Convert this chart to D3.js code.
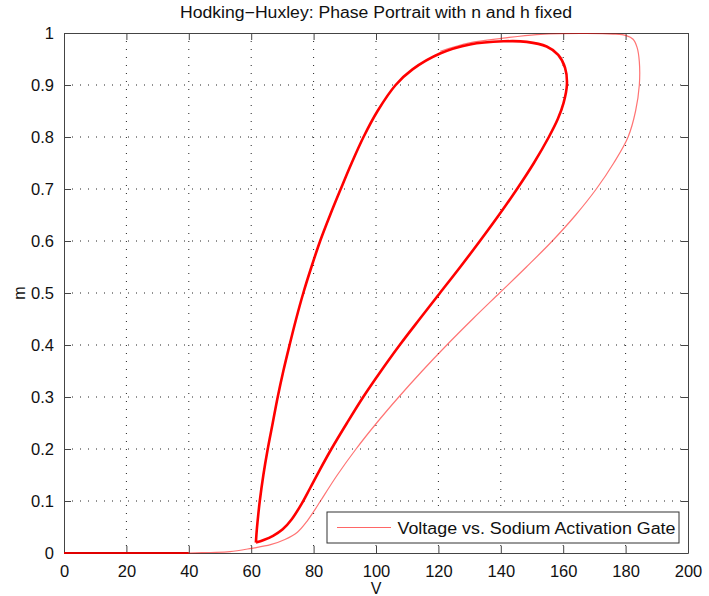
<!DOCTYPE html>
<html>
<head>
<meta charset="utf-8">
<script src="https://cdn.jsdelivr.net/npm/d3@7"></script>
<style>
  body { margin: 0; background: #fff; }
  text { font-family: "Liberation Sans", Arial, sans-serif; fill: #111; }
</style>
</head>
<body>
<div id="chart-area"></div>
<script>
// values
const xTicks = [0, 20, 40, 60, 80, 100, 120, 140, 160, 180, 200]
const yTicks = [0, 0.1, 0.2, 0.3, 0.4, 0.5, 0.6, 0.7, 0.8, 0.9, 1]

// resting stretch along the axis
const restV = [0, 40]
const restM = [0, 0]

// first spike (thin outer loop)
const firstV = [40, 47, 53.2, 60.1, 66.2, 70.8, 74.8, 78, 80.6, 82.2, 87.6, 93.6, 100.2, 107.3, 114.8, 122.7, 131, 139.6, 148.2, 156.5, 164, 170.6, 176.2, 180.8, 183.2, 184.4, 184.4, 183.7, 182.4, 180.2, 176, 165.4, 151.5, 140.8, 130, 120.6]
const firstM = [0, 0.001, 0.0025, 0.009, 0.016, 0.026, 0.04, 0.062, 0.085, 0.1, 0.15, 0.2, 0.25, 0.3, 0.35, 0.4, 0.45, 0.5, 0.55, 0.6, 0.65, 0.7, 0.75, 0.8, 0.85, 0.9, 0.945, 0.972, 0.988, 0.995, 0.998, 0.999, 0.997, 0.99, 0.981, 0.965]

// repeated spikes (thick inner loop)
const cycleV = [61.5, 61.8, 62.2, 62.75, 63.9, 65.3, 66.9, 68.5, 70.3, 72.3, 74.4, 76.7, 79.3, 82.1, 85.3, 88.7, 92.2, 96, 100.5, 106.3, 111.7, 120.7, 130.1, 140.8, 148.3, 154.7, 158.4, 160.6, 161.2, 160.1, 158.3, 155.4, 150.6, 145.2, 139.4, 133.3, 127, 120.5, 114, 107.6, 101.6, 95.9, 90.7, 85.7, 82, 78.9, 76.2, 73, 70, 67, 64, 61.5]
const cycleM = [0.02, 0.045, 0.07, 0.1, 0.15, 0.2, 0.25, 0.3, 0.35, 0.4, 0.45, 0.5, 0.55, 0.6, 0.65, 0.7, 0.75, 0.8, 0.85, 0.9, 0.93, 0.961, 0.978, 0.984, 0.983, 0.974, 0.958, 0.933, 0.902, 0.865, 0.835, 0.8, 0.75, 0.7, 0.65, 0.6, 0.55, 0.5, 0.45, 0.4, 0.35, 0.3, 0.25, 0.2, 0.16, 0.125, 0.095, 0.065, 0.045, 0.033, 0.025, 0.02]

const MARGIN = { LEFT: 64, RIGHT: 21, TOP: 33, BOTTOM: 43 }
const WIDTH = 709 - MARGIN.LEFT - MARGIN.RIGHT
const HEIGHT = 596 - MARGIN.TOP - MARGIN.BOTTOM

const svg = d3.select("#chart-area").append("svg")
	.attr("width", 709)
	.attr("height", 596)

const g = svg.append("g")
	.attr("transform", `translate(${MARGIN.LEFT}, ${MARGIN.TOP})`)

const x = d3.scaleLinear().domain([0, 200]).range([0, WIDTH])
const y = d3.scaleLinear().domain([0, 1]).range([HEIGHT, 0])

// dotted grid
g.append("g").selectAll("line")
	.data(xTicks.slice(1, -1))
	.join("line")
	.attr("x1", d => x(d)).attr("x2", d => x(d))
	.attr("y1", 0).attr("y2", HEIGHT)
	.attr("stroke", "#222").attr("stroke-dasharray", "1,7")
g.append("g").selectAll("line")
	.data(yTicks.slice(1, -1))
	.join("line")
	.attr("y1", d => y(d)).attr("y2", d => y(d))
	.attr("x1", 0).attr("x2", WIDTH)
	.attr("stroke", "#222").attr("stroke-dasharray", "1,7")

// axes, ticks pointing inward
const xAxis = g.append("g").attr("transform", `translate(0, ${HEIGHT})`)
	.call(d3.axisBottom(x).tickValues(xTicks).tickSizeInner(-7).tickSizeOuter(0).tickPadding(12))
const xAxisTop = g.append("g")
	.call(d3.axisTop(x).tickValues(xTicks).tickSizeInner(-7).tickSizeOuter(0).tickFormat(""))
const yAxis = g.append("g")
	.call(d3.axisLeft(y).tickValues(yTicks).tickSizeInner(-7).tickSizeOuter(0).tickPadding(10).tickFormat(d3.format("")))
const yAxisRight = g.append("g").attr("transform", `translate(${WIDTH}, 0)`)
	.call(d3.axisRight(y).tickValues(yTicks).tickSizeInner(-7).tickSizeOuter(0).tickFormat(""))

g.selectAll(".domain").attr("stroke", "#444")
g.selectAll(".tick line").attr("stroke", "#444")
g.selectAll(".tick text").attr("font-size", "16.5px").attr("font-family", "Liberation Sans, Arial, sans-serif").attr("fill", "#111")

// line generator
const line = d3.line()
	.x(d => x(d[0]))
	.y(d => y(d[1]))
	.curve(d3.curveCatmullRom.alpha(0.5))

const zip = (a, b) => a.map((v, i) => [v, b[i]])

g.append("path")
	.attr("d", line(zip(firstV, firstM)))
	.attr("fill", "none").attr("stroke", "#ff0000")
	.attr("stroke-opacity", 0.55).attr("stroke-width", 1.2)

g.append("path")
	.attr("d", line(zip(cycleV, cycleM)))
	.attr("fill", "none").attr("stroke", "#ff0000")
	.attr("stroke-width", 2.6).attr("stroke-linejoin", "round")

g.append("path")
	.attr("d", line(zip(restV, restM)))
	.attr("fill", "none").attr("stroke", "#e00000")
	.attr("stroke-width", 2)

// title and axis labels
svg.append("text")
	.attr("x", MARGIN.LEFT + WIDTH / 2).attr("y", 18)
	.attr("text-anchor", "middle").attr("font-size", "16px")
	.attr("textLength", 392).attr("lengthAdjust", "spacingAndGlyphs")
	.text("Hodking\u2212Huxley: Phase Portrait with n and h fixed")
svg.append("text")
	.attr("x", MARGIN.LEFT + WIDTH / 2).attr("y", 594)
	.attr("text-anchor", "middle").attr("font-size", "16px")
	.text("V")
svg.append("text")
	.attr("transform", `translate(25, ${MARGIN.TOP + HEIGHT / 2}) rotate(-90)`)
	.attr("text-anchor", "middle").attr("font-size", "16px")
	.text("m")

// legend
const legend = svg.append("g").attr("transform", "translate(327, 512)")
legend.append("rect")
	.attr("width", 352).attr("height", 31)
	.attr("fill", "#fff").attr("stroke", "#333")
legend.append("line")
	.attr("x1", 10).attr("x2", 64).attr("y1", 15.5).attr("y2", 15.5)
	.attr("stroke", "#ff0000").attr("stroke-opacity", 0.6)
legend.append("text")
	.attr("x", 70.5).attr("y", 21.5).attr("font-size", "16px")
	.attr("textLength", 278).attr("lengthAdjust", "spacingAndGlyphs")
	.text("Voltage vs. Sodium Activation Gate")
</script>
</body>
</html>
